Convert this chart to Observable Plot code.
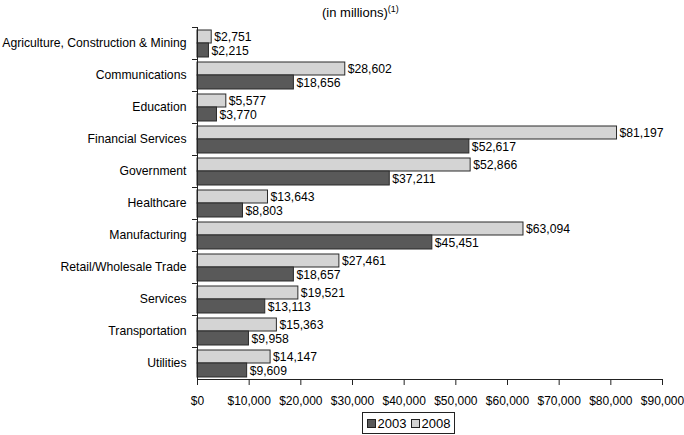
<!DOCTYPE html>
<html>
<head>
<meta charset="utf-8">
<script src="https://cdn.jsdelivr.net/npm/d3@7"></script>
<script src="https://cdn.jsdelivr.net/npm/@observablehq/plot@0.6"></script>
<style>
  html, body { margin: 0; padding: 0; background: #fff; }
  #wrap { position: relative; width: 684px; height: 435px; font-family: "Liberation Sans", Arial, Helvetica, sans-serif; color: #000; }
  #title { position: absolute; left: 322px; top: 5px; font-size: 13px; white-space: nowrap; }
  #title sup { font-size: 9px; vertical-align: 0; position: relative; top: -5px; }
  #legend { position: absolute; left: 362px; top: 412px; width: 91px; height: 20px; border: 1px solid #222; box-sizing: content-box; font-size: 13px; display: flex; align-items: center; justify-content: center; gap: 0; }
  .sw { display: inline-block; width: 7px; height: 7px; border: 1px solid #222; margin: 0 2px 0 0; }
  .item { display: inline-flex; align-items: center; margin: 0 2px; }
</style>
</head>
<body>
<div id="wrap">
  <div id="chart"></div>
  <div id="title">(in millions)<sup>(1)</sup></div>
  <div id="legend"></div>
</div>
<script>
const categories = [
  "Agriculture, Construction & Mining",
  "Communications",
  "Education",
  "Financial Services",
  "Government",
  "Healthcare",
  "Manufacturing",
  "Retail/Wholesale Trade",
  "Services",
  "Transportation",
  "Utilities"
];
const values2003 = [2215, 18656, 3770, 52617, 37211, 8803, 45451, 18657, 13113, 9958, 9609];
const values2008 = [2751, 28602, 5577, 81197, 52866, 13643, 63094, 27461, 19521, 15363, 14147];
const xTicks = [0, 10000, 20000, 30000, 40000, 50000, 60000, 70000, 80000, 90000];
const seriesNames = ["2003", "2008"];
const seriesColors = ["#595959", "#d4d4d4"];

const fmt = d => "$" + d3.format(",")(d);
const rows2003 = categories.map((c, i) => ({category: c, value: values2003[i]}));
const rows2008 = categories.map((c, i) => ({category: c, value: values2008[i]}));

const chart = Plot.plot({
  width: 684,
  height: 435,
  marginTop: 27,
  marginBottom: 56,
  marginLeft: 197,
  marginRight: 22,
  style: {fontFamily: "'Liberation Sans', Arial, Helvetica, sans-serif", fontSize: "12px", color: "#000", background: "transparent"},
  x: {domain: [0, 90000], label: null},
  y: {domain: categories, padding: 0, label: null},
  marks: [
    Plot.barX(rows2008, {x: "value", y: "category", fill: seriesColors[1], stroke: "#2a2a2a", strokeWidth: 1, insetTop: 3, insetBottom: 16}),
    Plot.barX(rows2003, {x: "value", y: "category", fill: seriesColors[0], stroke: "#2a2a2a", strokeWidth: 1, insetTop: 16, insetBottom: 2}),
    Plot.text(rows2008, {x: "value", y: "category", text: d => fmt(d.value), textAnchor: "start", dx: 2.5, dy: -6.5, fill: "#000", fontSize: 12.2}),
    Plot.text(rows2003, {x: "value", y: "category", text: d => fmt(d.value), textAnchor: "start", dx: 2.5, dy: 7.5, fill: "#000", fontSize: 12.2}),
    Plot.axisX({ticks: xTicks, tickFormat: fmt, tickSize: 6, tickPadding: 11, stroke: "#222", fontSize: 12, label: null}),
    Plot.axisY({tickSize: 0, tickPadding: 11, fontSize: 12.2, label: null}),
    Plot.axisY({tickSize: 5, tickFormat: () => "", dy: -16, stroke: "#222", label: null}),
    Plot.frame({anchor: "bottom", stroke: "#222"}),
    Plot.frame({anchor: "left", stroke: "#222"})
  ]
});
document.getElementById("chart").appendChild(chart);

const legend = document.getElementById("legend");
seriesNames.forEach((name, i) => {
  const item = document.createElement("span");
  item.className = "item";
  const sw = document.createElement("span");
  sw.className = "sw";
  sw.style.background = seriesColors[i];
  item.appendChild(sw);
  item.appendChild(document.createTextNode(name));
  legend.appendChild(item);
});
</script>
</body>
</html>
